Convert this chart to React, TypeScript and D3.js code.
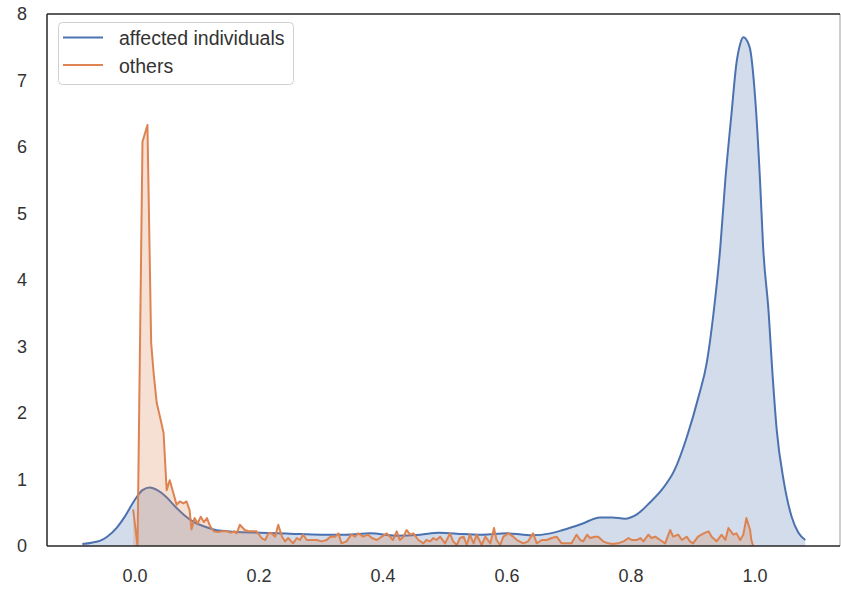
import React from "react";
import * as d3 from "d3";

// Density estimate for affected individuals (x = score, y = density)
const affectedX = [
  -0.085, -0.07, -0.056, -0.045, -0.03, -0.016, 0.0, 0.012, 0.024, 0.036, 0.05, 0.065, 0.08, 0.095,
  0.113, 0.13, 0.16, 0.2, 0.25, 0.3, 0.34, 0.38, 0.42, 0.46, 0.49, 0.53, 0.56, 0.6, 0.64, 0.67,
  0.69, 0.72, 0.75, 0.77, 0.79, 0.81, 0.83, 0.85, 0.87, 0.89, 0.909, 0.922, 0.933, 0.944, 0.952,
  0.962, 0.97, 0.976, 0.981, 0.991, 1.0, 1.008, 1.013, 1.022, 1.027, 1.035, 1.046, 1.059, 1.07, 1.081,
];
const affectedY = [
  0.03, 0.05, 0.08, 0.14, 0.27, 0.45, 0.7, 0.84, 0.88, 0.84, 0.74, 0.59, 0.46, 0.36,
  0.29, 0.24, 0.215, 0.2, 0.185, 0.17, 0.17, 0.19, 0.155, 0.17, 0.2, 0.18, 0.17, 0.19, 0.16, 0.19,
  0.24, 0.33, 0.43, 0.43, 0.41, 0.48, 0.65, 0.85, 1.14, 1.64, 2.25, 2.75, 3.5, 4.5, 5.5,
  6.5, 7.26, 7.55, 7.65, 7.51, 6.76, 5.5, 4.5, 3.5, 2.75, 1.74, 0.99, 0.44, 0.2, 0.09,
];

// Density estimate for the other individuals
const othersX = [
  -0.003, 0.004, 0.012, 0.02, 0.026, 0.03, 0.035, 0.04, 0.046, 0.051, 0.056, 0.062, 0.067, 0.072,
  0.078, 0.083, 0.088, 0.091, 0.096, 0.101, 0.106, 0.111, 0.116, 0.121, 0.127, 0.134, 0.14, 0.148,
  0.155, 0.16, 0.164, 0.169, 0.177, 0.185, 0.196, 0.204, 0.21, 0.215, 0.22, 0.226, 0.231, 0.237,
  0.242, 0.247, 0.255, 0.261, 0.266, 0.271, 0.277, 0.285, 0.293, 0.301, 0.309, 0.315, 0.323, 0.328,
  0.333, 0.341, 0.349, 0.355, 0.36, 0.368, 0.376, 0.382, 0.39, 0.398, 0.406, 0.411, 0.416, 0.422,
  0.427, 0.433, 0.438, 0.444, 0.449, 0.457, 0.465, 0.47, 0.476, 0.481, 0.486, 0.492, 0.5, 0.508,
  0.513, 0.519, 0.524, 0.53, 0.535, 0.54, 0.546, 0.551, 0.559, 0.565, 0.573, 0.579, 0.583, 0.589,
  0.594, 0.602, 0.61, 0.616, 0.626, 0.634, 0.642, 0.648, 0.656, 0.664, 0.672, 0.68, 0.688, 0.696,
  0.704, 0.712, 0.718, 0.723, 0.729, 0.734, 0.742, 0.747, 0.755, 0.763, 0.771, 0.779, 0.788, 0.796,
  0.801, 0.809, 0.815, 0.82, 0.828, 0.833, 0.839, 0.847, 0.855, 0.863, 0.868, 0.876, 0.882, 0.89,
  0.895, 0.9, 0.908, 0.917, 0.925, 0.93, 0.938, 0.946, 0.952, 0.957, 0.965, 0.97, 0.976, 0.981,
  0.986, 0.992, 0.994, 0.997,
];
const othersY = [
  0.55, 0.0, 6.08, 6.33, 3.05, 2.6, 2.15, 1.95, 1.7, 0.84, 0.99, 0.79, 0.62, 0.67,
  0.64, 0.67, 0.54, 0.25, 0.42, 0.34, 0.44, 0.36, 0.42, 0.3, 0.22, 0.21, 0.22, 0.22,
  0.2, 0.22, 0.19, 0.32, 0.24, 0.22, 0.22, 0.12, 0.09, 0.19, 0.19, 0.14, 0.32, 0.14,
  0.07, 0.12, 0.04, 0.12, 0.09, 0.17, 0.09, 0.09, 0.09, 0.07, 0.09, 0.14, 0.14, 0.19,
  0.04, 0.07, 0.17, 0.14, 0.19, 0.14, 0.17, 0.12, 0.09, 0.14, 0.19, 0.14, 0.09, 0.22,
  0.09, 0.14, 0.24, 0.17, 0.19, 0.09, 0.04, 0.09, 0.07, 0.12, 0.09, 0.14, 0.04, 0.19,
  0.07, 0.015, 0.12, 0.14, 0.015, 0.17, 0.04, 0.17, 0.015, 0.14, 0.04, 0.27, 0.09, 0.015,
  0.14, 0.19, 0.14, 0.09, 0.04, 0.07, 0.19, 0.04, 0.09, 0.09, 0.12, 0.14, 0.04, 0.04,
  0.04, 0.17, 0.09, 0.07, 0.17, 0.12, 0.14, 0.14, 0.07, 0.04, 0.03, 0.04, 0.07, 0.12,
  0.09, 0.09, 0.12, 0.07, 0.17, 0.12, 0.14, 0.09, 0.04, 0.24, 0.14, 0.17, 0.09, 0.14,
  0.07, 0.04, 0.14, 0.19, 0.22, 0.14, 0.07, 0.17, 0.09, 0.27, 0.17, 0.19, 0.09, 0.17,
  0.42, 0.24, 0.09, 0.0,
];

const xTicks = [0.0, 0.2, 0.4, 0.6, 0.8, 1.0];
const yTicks = [0, 1, 2, 3, 4, 5, 6, 7, 8];
const seriesNames = ["affected individuals", "others"];
const colors = ["#4c72b0", "#dd8452"];

const W = 841;
const H = 593;
const plot = { left: 47, right: 840, top: 14, bottom: 546 };
const font = "'Liberation Sans', Arial, sans-serif";
const textColor = "#333333";
const spineColor = "#262626";

export default function App() {
  const x = d3.scaleLinear().domain([-0.142, 1.137]).range([plot.left, plot.right]);
  const y = d3.scaleLinear().domain([0, 8]).range([plot.bottom, plot.top]);

  const series = [
    { pts: affectedX.map((v, i) => [v, affectedY[i]] as [number, number]), curve: d3.curveMonotoneX },
    { pts: othersX.map((v, i) => [v, othersY[i]] as [number, number]), curve: d3.curveLinear },
  ];

  return (
    <svg
      width={W}
      height={H}
      style={{ position: "absolute", left: 0, top: 0, background: "#fff" }}
      fontFamily={font}
    >
      <defs>
        <clipPath id="plotArea">
          <rect x={plot.left} y={plot.top} width={plot.right - plot.left} height={plot.bottom - plot.top} />
        </clipPath>
      </defs>
      <g clipPath="url(#plotArea)">
        {series.map((s, i) => {
          const line = d3
            .line<[number, number]>()
            .x((d) => x(d[0]))
            .y((d) => y(d[1]))
            .curve(s.curve);
          const area = d3
            .area<[number, number]>()
            .x((d) => x(d[0]))
            .y0(y(0))
            .y1((d) => y(d[1]))
            .curve(s.curve);
          return (
            <g key={i}>
              <path d={line(s.pts) ?? ""} fill="none" stroke={colors[i]} strokeWidth={2} strokeLinejoin="round" />
              <path d={area(s.pts) ?? ""} fill={colors[i]} fillOpacity={0.25} stroke="none" />
            </g>
          );
        })}
      </g>

      {/* spines: the right one sits on the page edge and shows only faintly */}
      <line x1={plot.left} x2={plot.right} y1={plot.top} y2={plot.top} stroke={spineColor} strokeWidth={1.5} />
      <line x1={plot.left} x2={plot.right} y1={plot.bottom} y2={plot.bottom} stroke={spineColor} strokeWidth={1.5} />
      <line x1={plot.left} x2={plot.left} y1={plot.top} y2={plot.bottom} stroke={spineColor} strokeWidth={1.5} />
      <line x1={plot.right} x2={plot.right} y1={plot.top} y2={plot.bottom} stroke={spineColor} strokeWidth={1.5} strokeOpacity={0.3} />

      {/* y tick labels */}
      {yTicks.map((t) => (
        <text
          key={"y" + t}
          x={plot.left - 20}
          y={y(t)}
          dy="0.35em"
          textAnchor="end"
          fontSize={18}
          fill={textColor}
        >
          {t}
        </text>
      ))}

      {/* x tick labels */}
      {xTicks.map((t) => (
        <text
          key={"x" + t}
          x={x(t)}
          y={plot.bottom + 30}
          dy="0.35em"
          textAnchor="middle"
          fontSize={18}
          fill={textColor}
        >
          {d3.format(".1f")(t)}
        </text>
      ))}

      {/* legend */}
      <g>
        <rect x={58.5} y={22.5} width={235} height={62} rx={4} fill="#fff" fillOpacity={0.8} stroke="#d0d0d0" strokeWidth={1} />
        {seriesNames.map((name, i) => (
          <g key={name}>
            <line x1={63} x2={103} y1={37.5 + i * 27.5} y2={37.5 + i * 27.5} stroke={colors[i]} strokeWidth={2} />
            <text x={119} y={38.5 + i * 27.5} dy="0.35em" fontSize={19.5} fill={textColor}>
              {name}
            </text>
          </g>
        ))}
      </g>
    </svg>
  );
}
